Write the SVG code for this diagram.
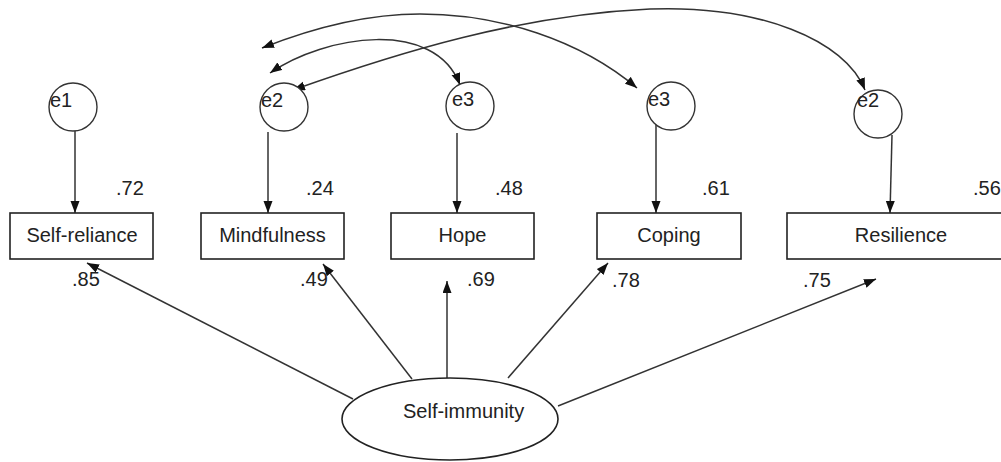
<svg xmlns="http://www.w3.org/2000/svg" width="1001" height="462" viewBox="0 0 1001 462">
<style>
text{font-family:"Liberation Sans",Arial,sans-serif;font-size:20px;fill:#222}
.c{text-anchor:middle}
.box{fill:#fff;stroke:#222;stroke-width:1.6}
.err{fill:#fff;stroke:#333;stroke-width:1.4}
.ln{fill:none;stroke:#333;stroke-width:1.5}
.arr{marker-end:url(#ah)}
.both{marker-start:url(#ah);marker-end:url(#ah)}
</style>
<defs>
<marker id="ah" markerUnits="userSpaceOnUse" markerWidth="13" markerHeight="10" refX="12" refY="4.5" orient="auto-start-reverse">
<path d="M0,0 L12,4.5 L0,9 z" fill="#111"/>
</marker>
</defs>
<rect width="1001" height="462" fill="#fff"/>
<g id="connectors">
<line class="ln arr" x1="75" y1="131" x2="75" y2="213"/>
<line class="ln arr" x1="268" y1="132" x2="268" y2="213"/>
<line class="ln arr" x1="457" y1="133" x2="457" y2="213"/>
<line class="ln arr" x1="656" y1="124" x2="656" y2="213"/>
<line class="ln arr" x1="892" y1="135" x2="890" y2="213"/>
<line class="ln arr" x1="353" y1="399" x2="87" y2="263"/>
<line class="ln arr" x1="412" y1="379" x2="323" y2="264"/>
<line class="ln arr" x1="447" y1="378" x2="447" y2="281"/>
<line class="ln arr" x1="508" y1="378" x2="608" y2="263"/>
<line class="ln arr" x1="558" y1="406" x2="876" y2="279"/>
<path class="ln both" d="M262,48 C320,25 370,14 420,14 C500,14 580,40 637,88"/>
<path class="ln both" d="M270,73 C325,35 435,18 460,85"/>
<path class="ln both" d="M293,90 C400,52 520,15 650,9 C760,5 845,40 865,90"/>
</g>
<g id="e1"><circle class="err" cx="73" cy="107" r="24"/><text x="50" y="107">e1</text></g>
<g id="e2a"><circle class="err" cx="284" cy="107" r="24"/><text x="261" y="107">e2</text></g>
<g id="e3a"><circle class="err" cx="470" cy="106" r="24"/><text x="452" y="106">e3</text></g>
<g id="e3b"><circle class="err" cx="671" cy="106" r="24"/><text x="648" y="106">e3</text></g>
<g id="e2b"><circle class="err" cx="878" cy="114" r="24"/><text x="857" y="107">e2</text></g>
<g id="self-reliance"><rect class="box" x="10" y="213" width="143" height="46"/><text class="c" x="82" y="242">Self-reliance</text></g>
<g id="mindfulness"><rect class="box" x="201" y="213" width="143" height="46"/><text class="c" x="272.5" y="242">Mindfulness</text></g>
<g id="hope"><rect class="box" x="391" y="213" width="143" height="46"/><text class="c" x="462.5" y="242">Hope</text></g>
<g id="coping"><rect class="box" x="597" y="213" width="144" height="46"/><text class="c" x="669" y="242">Coping</text></g>
<g id="resilience"><rect class="box" x="787" y="213" width="228" height="46"/><text class="c" x="901" y="242">Resilience</text></g>
<g id="self-immunity"><ellipse class="box" cx="450" cy="419" rx="108" ry="41"/><text x="403" y="418">Self-immunity</text></g>
<g id="labels">
<text x="116" y="195">.72</text>
<text x="306" y="195">.24</text>
<text x="495" y="195">.48</text>
<text x="702" y="195">.61</text>
<text x="973" y="195">.56</text>
<text x="72" y="286">.85</text>
<text x="300" y="286">.49</text>
<text x="467" y="286">.69</text>
<text x="612" y="287">.78</text>
<text x="803" y="287">.75</text>
</g>
</svg>
